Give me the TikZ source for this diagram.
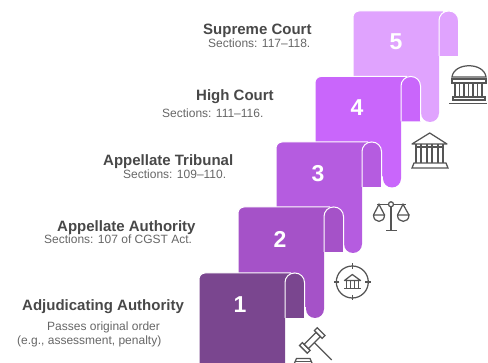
\documentclass[tikz,border=0pt]{standalone}
\usepackage{fontspec}
\setmainfont{Liberation Sans}
\usetikzlibrary{positioning}
\definecolor{stepa}{HTML}{7A468F}
\definecolor{stepb}{HTML}{A552C8}
\definecolor{stepc}{HTML}{B55CE0}
\definecolor{stepd}{HTML}{C966FB}
\definecolor{stepe}{HTML}{E0A3FE}
\definecolor{titlegrey}{HTML}{484848}
\definecolor{subgrey}{HTML}{666666}
\definecolor{icongrey}{HTML}{555555}
\tikzset{
    title/.style={anchor=base west,inner sep=0pt,text=titlegrey,font=\fontsize{15}{15}\selectfont\bfseries},
    sub/.style={anchor=base west,inner sep=0pt,text=subgrey,font=\fontsize{12}{12}\selectfont},
    num/.style={anchor=base,text=white,inner sep=0pt,font=\fontsize{23}{23}\selectfont\bfseries},
    iconline/.style={draw=icongrey,line width=1.25pt},
    edge/.style={draw=white,line width=1pt}
}
\begin{document}
\begin{tikzpicture}[x=1pt,y=-1pt]
    \useasboundingbox (0,0) rectangle (488,363);

    % scrolls, top one first
    \foreach \x/\y/\colour in {353/11/stepe,315/76.5/stepd,276/142/stepc,238/207/stepb,199/273/stepa}
    {
        \fill[\colour] (\x,\y+100) -- (\x,\y+10) -- (\x+86,\y+10) [rounded corners=9pt] -- (\x+86,\y+111) -- (\x+68,\y+111) [sharp corners] -- (\x+68,\y+100) -- cycle;
        \path[fill=\colour] (\x,\y+100) [rounded corners=6pt] -- (\x,\y) [sharp corners] -- (\x+90,\y) -- (\x+90,\y+20) -- (\x,\y+20) -- cycle;
        \draw[edge] (\x,\y+100) [rounded corners=6pt] -- (\x,\y) [sharp corners] -- (\x+92,\y);
        \path[fill=\colour] (\x+86,\y+45) [rounded corners=9.5pt] -- (\x+86,\y) -- (\x+105.5,\y) [sharp corners] -- (\x+105.5,\y+45) -- cycle;
        \draw[edge] (\x+86,\y+45) [rounded corners=9.5pt] -- (\x+86,\y) -- (\x+105.5,\y) [sharp corners] -- (\x+105.5,\y+45);
    }

    \node[num] at (396,50)(n5) {5};
    \node[num] at (357,116)(n4) {4};
    \node[num] at (318,181.5)(n3) {3};
    \node[num] at (280,247.5)(n2) {2};
    \node[num] at (240,313)(n1) {1};

    \node[title] at (203,35)(supreme) {Supreme Court};
    \node[sub] at (208,47.3)(supremesub) {Sections: 117–118.};
    \node[title] at (196,100.5)(high) {High Court};
    \node[sub] at (162,117.3)(highsub) {Sections: 111–116.};
    \node[title] at (103,165.7)(tribunal) {Appellate Tribunal};
    \node[sub] at (123,178.3)(tribunalsub) {Sections: 109–110.};
    \node[title] at (57,231.7)(authority) {Appellate Authority};
    \node[sub] at (44,244)(authoritysub) {Sections: 107 of CGST Act.};
    \node[title] at (22,310.7)(adjudicating) {Adjudicating Authority};
    \node[sub] at (47,330.7)(passes) {Passes original order};
    \node[sub] at (17,345)(example) {(e.g., assessment, penalty)};

    % dome
    \draw[iconline] (452,77) .. controls (454,62) and (484,62) .. (486,77) -- cycle;
    \draw[iconline] (452,79) rectangle (486,83);
    \foreach \x in {455,459.5,464,468.5,473,477.5,482}
        \draw[iconline] (\x,83) -- (\x,97);
    \draw[iconline] (453,97) rectangle (485,100);
    \draw[iconline] (449,103.5) -- (487,103.5);

    % temple
    \draw[iconline,line join=round] (412,144) -- (429.7,133) -- (447,144) -- cycle;
    \foreach \x in {416,421,427,432,438,443}
        \draw[iconline] (\x,144) -- (\x,163);
    \draw[iconline] (416,147) -- (444,147);
    \draw[iconline] (414,163) -- (446,163) -- (448,168) -- (412,168) -- cycle;

    % scales
    \draw[iconline] (377,204.3) -- (388.5,204.3) (393.5,204.3) -- (406,204.3);
    \draw[iconline] (391,204.3) circle (2.5);
    \draw[iconline] (391,206.8) -- (391,230.7) (386,230.7) -- (397,230.7);
    \draw[iconline] (373.5,215) -- (379,204.3) -- (384.5,215);
    \draw[iconline] (397.5,215) -- (403,204.3) -- (409,215);
    \draw[iconline] (373.5,215) -- (384.5,215) .. controls (384.5,223.5) and (373.5,223.5) .. (373.5,215);
    \draw[iconline] (397.5,215) -- (409,215) .. controls (409,223.5) and (397.5,223.5) .. (397.5,215);

    % target with bank
    \draw[iconline] (352.3,282) circle (16);
    \foreach \a in {0,90,180,270}
        \draw[iconline] (352.3,282) ++(\a:13) -- ++(\a:5.5);
    \draw[iconline,line join=round] (344.5,280.5) -- (352.3,274.5) -- (360.5,280.5) -- cycle;
    \foreach \x in {346.5,350.5,354.5,358.5}
        \draw[iconline] (\x,281) -- (\x,288);
    \draw[iconline] (344,288.8) -- (361,288.8);

    % gavel
    \begin{scope}[shift={(312.3,340.5)},rotate=45]
        \draw[iconline] (-12.5,-5.5) rectangle (-8.5,5.5);
        \draw[iconline] (8.5,-5.5) rectangle (12.5,5.5);
        \draw[iconline] (-8.5,-3) rectangle (8.5,3);
        \draw[iconline] (0,3) -- (0,27.5);
    \end{scope}
    \draw[iconline] (294.5,363) -- (296.5,358.5) -- (310,358.5) -- (312,363);
    \draw[iconline] (295,361.5) -- (311.5,361.5);
\end{tikzpicture}
\end{document}
